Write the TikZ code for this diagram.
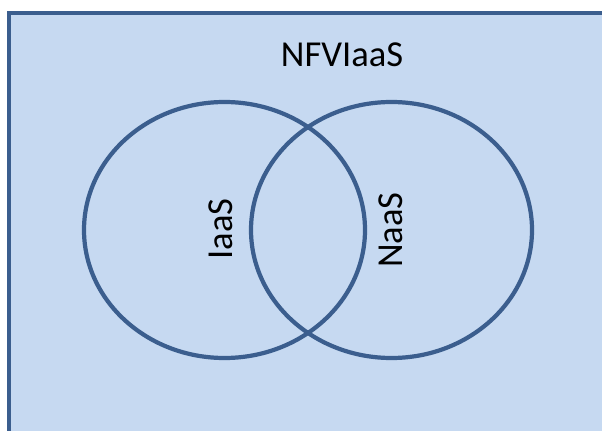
\documentclass[tikz,border=0pt]{standalone}
\usepackage{fontspec}
\setmainfont{Carlito}
\usepackage{tikz}

\definecolor{boxfill}{HTML}{C6D9F1}
\definecolor{edgeblue}{HTML}{3B5E8E}

\begin{document}
\begin{tikzpicture}[x=0.025cm, y=-0.025cm,
	setlabel/.style={font=\fontsize{26}{30}\selectfont, inner sep=0pt}]
	\useasboundingbox (0,0) rectangle (602,431);
	\clip (0,0) rectangle (602,431);
	\filldraw [fill=boxfill, draw=edgeblue, line width=3.5pt] (9,13) rectangle (640,460);
	
	\def\ry{128}
	\def\rx{140.5}
	\draw [edgeblue, line width=3pt] (224.5,230) ellipse [x radius=\rx, y radius=\ry];
	\draw [edgeblue, line width=3pt] (391.5,230) ellipse [x radius=\rx, y radius=\ry];
	
	\node [setlabel] (nfvi) at (342,55) {NFVIaaS};
	\node [setlabel, rotate=90] (iaas) at (221,229) {IaaS};
	\node [setlabel, rotate=90] (naas) at (391,230) {NaaS};
	
\end{tikzpicture}
\end{document}
